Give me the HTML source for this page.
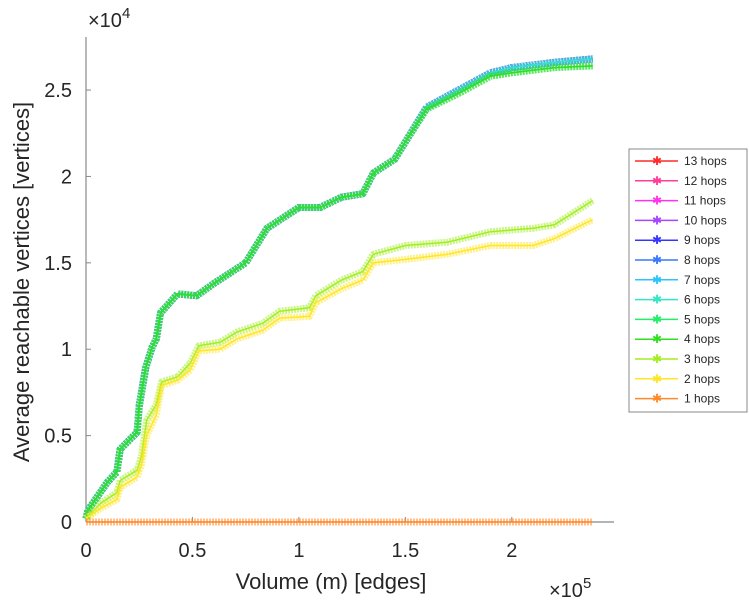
<!DOCTYPE html>
<html><head><meta charset="utf-8"><style>
body{margin:0;background:#fff;font-family:"Liberation Sans",sans-serif}
svg text{font-family:"Liberation Sans",sans-serif;fill:#262626}
</style></head><body>
<svg id="c" width="749" height="600"></svg>
<script>
const xs_upper=[0,0.01,0.05,0.1,0.145,0.16,0.24,0.25,0.28,0.31,0.33,0.35,0.43,0.52,0.6,0.75,0.8,0.85,1.0,1.1,1.2,1.3,1.35,1.45,1.5,1.6,1.75,1.9,2.0,2.2,2.38];
const ys_upper=[0.02,0.07,0.14,0.23,0.29,0.42,0.52,0.67,0.89,1.01,1.06,1.21,1.32,1.31,1.38,1.5,1.6,1.7,1.82,1.82,1.88,1.9,2.02,2.1,2.2,2.4,2.5,2.6,2.63,2.66,2.68];
const ys_upper_lo=[0.02,0.07,0.14,0.23,0.29,0.42,0.52,0.67,0.89,1.01,1.06,1.21,1.32,1.31,1.38,1.5,1.6,1.7,1.82,1.82,1.88,1.9,2.02,2.1,2.2,2.39,2.48,2.58,2.6,2.63,2.64];
const xs_lower=[0,0.07,0.145,0.16,0.24,0.26,0.285,0.33,0.355,0.43,0.49,0.53,0.63,0.71,0.83,0.91,1.05,1.08,1.2,1.3,1.35,1.5,1.7,1.9,2.1,2.2,2.38];
const ys_3hops=[0.02,0.11,0.17,0.24,0.3,0.38,0.59,0.68,0.81,0.84,0.92,1.02,1.04,1.1,1.15,1.22,1.24,1.31,1.4,1.45,1.55,1.6,1.62,1.68,1.7,1.72,1.86];
const ys_2hops=[0.02,0.08,0.13,0.2,0.26,0.33,0.5,0.62,0.79,0.82,0.88,0.99,1.0,1.06,1.11,1.18,1.19,1.27,1.35,1.4,1.5,1.52,1.55,1.6,1.6,1.64,1.75];
const xs_flat=[0,2.38];
const ys_flat=[0,0];
const seriesNames=["13 hops","12 hops","11 hops","10 hops","9 hops","8 hops","7 hops","6 hops","5 hops","4 hops","3 hops","2 hops","1 hops"];
const seriesColors=["#ff2a2a","#ff3d9a","#ff33ee","#a645ff","#3535ff","#3a78ff","#2ac4ff","#33e6c4","#22ee66","#33dd22","#a2ee22","#ffe626","#ff8a2a"];
const xTicks=[0,0.5,1,1.5,2], xTickLabels=["0","0.5","1","1.5","2"];
const yTicks=[0,0.5,1,1.5,2,2.5], yTickLabels=["0","0.5","1","1.5","2","2.5"];
const NS="http://www.w3.org/2000/svg", svg=document.getElementById('c');
const X0=86,X1=614,XMAX=2.48,Y0=522,Y1=37,YMAX=2.807;
const sx=v=>X0+v/XMAX*(X1-X0), sy=v=>Y0-v/YMAX*(Y0-Y1);
function el(t,a,p){const e=document.createElementNS(NS,t);for(const k in a)e.setAttribute(k,a[k]);(p||svg).appendChild(e);return e;}
function dataFor(i){
  if(i===12)return [xs_flat,ys_flat];
  if(i===11)return [xs_lower,ys_2hops];
  if(i===10)return [xs_lower,ys_3hops];
  if(i>=8)return [xs_upper,ys_upper_lo];
  return [xs_upper,ys_upper];
}
// axes
const ax=el('line',{x1:X0,y1:Y1,x2:X0,y2:Y0,stroke:'#888','stroke-width':1.2});


const bx=el('line',{x1:X0,y1:Y0,x2:X1,y2:Y0,stroke:'#888','stroke-width':1.2});


xTicks.forEach((v,i)=>{
  el('line',{x1:sx(v),y1:Y0,x2:sx(v),y2:Y0-5,stroke:'#888'});
  const t=el('text',{x:sx(v),y:557,'font-size':20,'text-anchor':'middle'});t.textContent=xTickLabels[i];
  
  
});
yTicks.forEach((v,i)=>{
  el('line',{x1:X0,y1:sy(v),x2:X0+5,y2:sy(v),stroke:'#888'});
  const t=el('text',{x:72,y:sy(v)+7,'font-size':20,'text-anchor':'end'});t.textContent=yTickLabels[i];
  
  
});
// series: draw 13 hops first so lower hops lie on top
for(let i=0;i<13;i++){
  const [xs,ys]=dataFor(i);
  const pts=xs.map((x,j)=>sx(x).toFixed(1)+','+sy(ys[j]).toFixed(1)).join(' ');
  const g=el('g',{});
  
  
  el('polyline',{points:pts,fill:'none',stroke:seriesColors[i],'stroke-width':7,'stroke-opacity':0.55,'stroke-linejoin':'round','stroke-dasharray':'2 1'},g);
  el('polyline',{points:pts,fill:'none',stroke:seriesColors[i],'stroke-width':1.5,'stroke-linejoin':'round'},g);
}
// labels
const yl=el('text',{x:0,y:0,'font-size':22,'text-anchor':'middle',transform:'translate(29,282) rotate(-90)'});
yl.textContent='Average reachable vertices [vertices]';


const xl=el('text',{x:331,y:589,'font-size':22,'text-anchor':'middle'});
xl.textContent='Volume (m) [edges]';


const ye=el('text',{x:88,y:27,'font-size':20});
ye.innerHTML='×10<tspan dy="-9" font-size="15">4</tspan>';


const xe=el('text',{x:549,y:597,'font-size':20});
xe.innerHTML='×10<tspan dy="-9" font-size="15">5</tspan>';


// legend
const lg=el('g',{});


el('rect',{x:629,y:149,width:118,height:263,fill:'#fff',stroke:'#888'},lg);
seriesNames.forEach((n,i)=>{
  const y=161+i*19.8;
  const e=el('g',{},lg);
  
  
  el('line',{x1:635,y1:y,x2:678,y2:y,stroke:seriesColors[i],'stroke-width':1.5},e);
  const m=el('text',{x:657,y:y+4,'font-size':12,'text-anchor':'middle',style:'fill:'+seriesColors[i]},e);m.textContent='✱';
  const t=el('text',{x:684,y:y+4,'font-size':12},e);t.textContent=n;
});
</script>
</body></html>
